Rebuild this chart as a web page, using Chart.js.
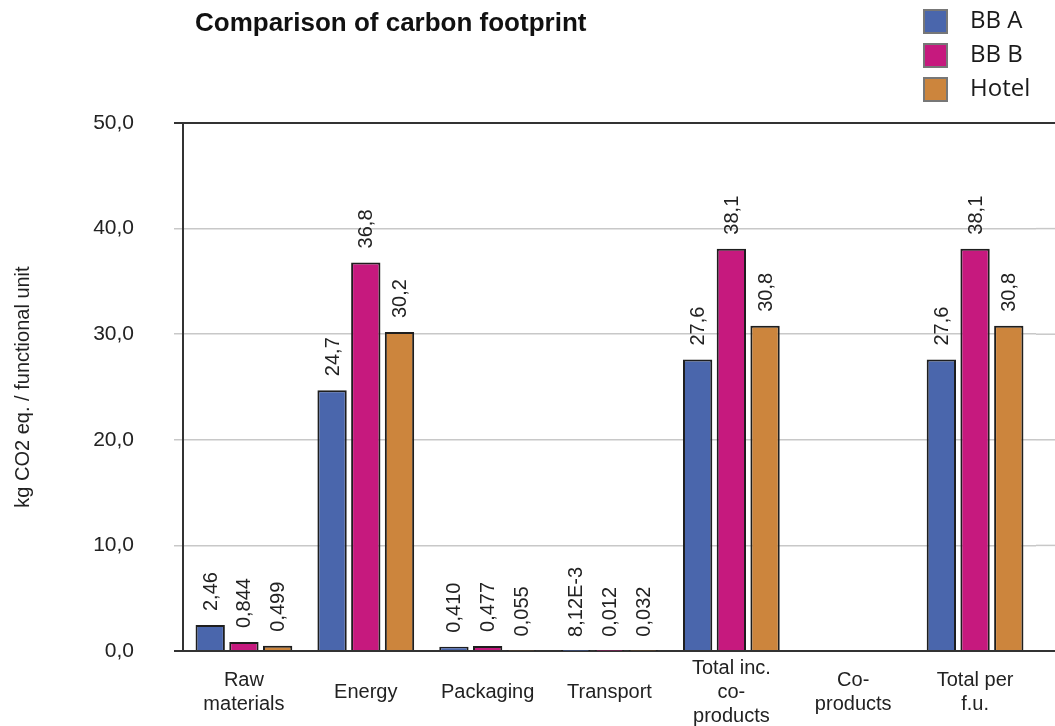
<!DOCTYPE html>
<html>
<head>
<meta charset="utf-8">
<title>Comparison of carbon footprint</title>
<script src="https://cdn.jsdelivr.net/npm/chart.js@4.4.1/dist/chart.umd.min.js"></script>
<style>
  html, body { margin: 0; padding: 0; background: #ffffff; }
  #wrap { position: relative; width: 1055px; height: 726px; }
</style>
</head>
<body>
<div id="wrap"><canvas id="chart" width="1055" height="726"></canvas></div>
<script>
// Life-cycle stages on the x axis (multi-line labels as arrays)
const categories = [
  ['Raw', 'materials'],
  'Energy',
  'Packaging',
  'Transport',
  ['Total inc.', 'co-', 'products'],
  ['Co-', 'products'],
  ['Total per', 'f.u.']
];

const seriesNames = ['BB A', 'BB B', 'Hotel'];

// kg CO2 eq. per functional unit
const bbA   = [2.46, 24.7, 0.410, 0.00812, 27.6, null, 27.6];
const bbB   = [0.844, 36.8, 0.477, 0.012, 38.1, null, 38.1];
const hotel = [0.499, 30.2, 0.055, 0.032, 30.8, null, 30.8];

const yMin = 0;
const yMax = 50;
const yStep = 10;

const seriesColors = ['#4A66AC', '#C6197E', '#CC853D'];

const FONT = '"Liberation Sans", Arial, Helvetica, sans-serif';

// Decimal comma, 3 significant figures, exponent form for tiny values
function fmtValue(v) {
  if (v < 0.01) {
    const e = Math.floor(Math.log10(v));
    const m = v / Math.pow(10, e);
    return m.toFixed(2).replace('.', ',') + 'E' + e;
  }
  if (v < 1) return v.toFixed(3).replace('.', ',');
  if (v < 10) return v.toFixed(2).replace('.', ',');
  return v.toFixed(1).replace('.', ',');
}

// Rotated value labels above every bar
const valueLabels = {
  id: 'valueLabels',
  afterDatasetsDraw(chart) {
    const ctx = chart.ctx;
    ctx.save();
    ctx.font = '20px ' + FONT;
    ctx.fillStyle = '#222222';
    ctx.textAlign = 'left';
    ctx.textBaseline = 'middle';
    chart.data.datasets.forEach((ds, i) => {
      const meta = chart.getDatasetMeta(i);
      meta.data.forEach((bar, j) => {
        const v = ds.data[j];
        if (v === null || v === undefined) return;
        ctx.save();
        ctx.translate(bar.x + 1, bar.y - 14);
        ctx.rotate(-Math.PI / 2);
        ctx.fillText(fmtValue(v), 0, 0);
        ctx.restore();
      });
    });
    ctx.restore();
  }
};

// Horizontal rules continue to the right edge of the canvas
const extendRules = {
  id: 'extendRules',
  beforeDatasetsDraw(chart) {
    const y = chart.scales.y;
    const ctx = chart.ctx;
    const right = chart.chartArea.right;
    ctx.save();
    y.ticks.forEach(t => {
      const edge = t.value === yMin || t.value === yMax;
      const py = y.getPixelForValue(t.value);
      ctx.strokeStyle = edge ? '#333333' : '#c8c8c8';
      ctx.lineWidth = edge ? 2 : 1.5;
      ctx.beginPath();
      ctx.moveTo(right, py);
      ctx.lineTo(chart.width, py);
      ctx.stroke();
    });
    ctx.restore();
  }
};

// Heading and stacked legend in the top band
const headerAndLegend = {
  id: 'headerAndLegend',
  afterDraw(chart) {
    const ctx = chart.ctx;
    ctx.save();
    ctx.fillStyle = '#111111';
    ctx.font = 'bold 26px ' + FONT;
    ctx.textAlign = 'left';
    ctx.textBaseline = 'middle';
    ctx.fillText('Comparison of carbon footprint', 195, 24);

    ctx.font = '24px "Open Sans", ' + FONT;
    chart.data.datasets.forEach((ds, i) => {
      const cy = 21 + i * 34;
      ctx.fillStyle = ds.backgroundColor;
      ctx.fillRect(924, cy - 11, 23, 23);
      ctx.strokeStyle = '#777777';
      ctx.lineWidth = 2;
      ctx.strokeRect(924, cy - 11, 23, 23);
      ctx.fillStyle = '#1a1a1a';
      ctx.fillText(ds.label, 970, cy);
    });
    ctx.restore();
  }
};

const datasets = [bbA, bbB, hotel].map((vals, i) => ({
  label: seriesNames[i],
  data: vals,
  backgroundColor: seriesColors[i],
  borderColor: '#1e1e1e',
  borderWidth: 2,
  borderSkipped: 'start',
  categoryPercentage: 0.83,
  barPercentage: 0.87
}));

new Chart(document.getElementById('chart'), {
  type: 'bar',
  data: { labels: categories, datasets },
  options: {
    responsive: false,
    animation: false,
    devicePixelRatio: 1,
    layout: { padding: { left: 0, right: 19, top: 123, bottom: 0 } },
    plugins: {
      legend: { display: false },
      title: { display: false },
      tooltip: { enabled: false }
    },
    scales: {
      x: {
        afterFit(scale) { scale.height = 75; },
        grid: { display: false, drawTicks: false },
        border: { display: true, color: '#333333', width: 2 },
        ticks: {
          color: '#222222',
          font: { family: FONT, size: 20, lineHeight: 1.2 },
          padding: 17,
          maxRotation: 0,
          minRotation: 0,
          autoSkip: false,
          crossAlign: 'center'
        }
      },
      y: {
        min: yMin,
        max: yMax,
        afterFit(scale) { scale.width = 183; },
        grid: {
          color: c => (c.tick && (c.tick.value === yMin || c.tick.value === yMax)) ? '#333333' : '#c8c8c8',
          lineWidth: c => (c.tick && (c.tick.value === yMin || c.tick.value === yMax)) ? 2 : 1.5,
          tickLength: 9,
          drawTicks: true
        },
        border: { display: true, color: '#333333', width: 2 },
        ticks: {
          stepSize: yStep,
          color: '#222222',
          padding: 40,
          font: { family: FONT, size: 21 },
          callback: v => v.toFixed(1).replace('.', ',')
        },
        title: {
          display: true,
          text: 'kg CO2 eq. / functional unit',
          color: '#222222',
          font: { family: FONT, size: 20 },
          padding: { top: 11, bottom: 0 }
        }
      }
    }
  },
  plugins: [extendRules, valueLabels, headerAndLegend]
});
</script>
</body>
</html>
